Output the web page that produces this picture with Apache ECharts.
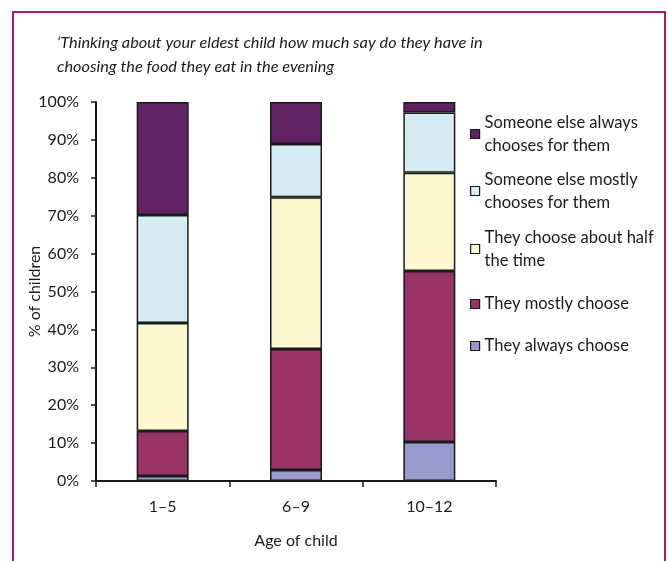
<!DOCTYPE html>
<html>
<head>
<meta charset="utf-8">
<script src="https://cdn.jsdelivr.net/npm/echarts@6/dist/echarts.min.js"></script>
<style>
  html, body { margin: 0; padding: 0; background: #fff; }
  #chart { width: 668px; height: 561px; }
</style>
</head>
<body>
<div id="chart"></div>
<script>
// Age groups along the x axis
const categories = ['1–5', '6–9', '10–12'];

// Share of children (%) in each answer group, bottom of stack first
const alwaysChoose = [1.3, 2.9, 10.3];
const mostlyChoose = [11.9, 31.9, 45.1];
const halfTheTime = [28.5, 40.1, 25.9];
const elseMostly = [28.5, 14.0, 15.9];
const elseAlways = [29.8, 11.1, 2.8];

// Series names (stack order) and their wrapped legend text
const seriesNames = [
  'They always choose',
  'They mostly choose',
  'They choose about half the time',
  'Someone else mostly chooses for them',
  'Someone else always chooses for them'
];
const legendText = [
  'They always choose',
  'They mostly choose',
  'They choose about half\nthe time',
  'Someone else mostly\nchooses for them',
  'Someone else always\nchooses for them'
];
const seriesValues = [alwaysChoose, mostlyChoose, halfTheTime, elseMostly, elseAlways];
const colors = ['#9999CC', '#993366', '#FBF8CF', '#D5ECF3', '#602262'];

// Y axis ticks
const yMin = 0, yMax = 100, yStep = 10;

const FONT = 'Lato, "Open Sans", sans-serif';
const LINE = 23;
// Vertical centre of each legend key, listed top to bottom
const legendOrder = [4, 3, 2, 1, 0];
const legendCenters = [134, 191, 249, 304, 346];

const legends = legendOrder.map((idx, k) => {
  const twoLine = legendText[idx].indexOf('\n') >= 0;
  return {
    data: [seriesNames[idx]],
    left: 470,
    top: legendCenters[k] - (twoLine ? 1.5 * LINE : LINE / 2),
    padding: 0,
    itemWidth: 9,
    itemHeight: 9,
    itemGap: 4,
    icon: 'rect',
    selectedMode: false,
    formatter: () => legendText[idx],
    itemStyle: { borderColor: '#1a1a1a', borderWidth: 1.2 },
    textStyle: {
      fontFamily: FONT,
      fontSize: 16.5,
      color: '#1a1a1a',
      lineHeight: LINE,
      padding: twoLine ? [LINE, 0, 0, 0] : 0
    }
  };
});

const chart = echarts.init(document.getElementById('chart'), null, { renderer: 'canvas' });
chart.setOption({
  animation: false,
  backgroundColor: '#ffffff',
  textStyle: { fontFamily: FONT },
  title: {
    text: '‘Thinking about your eldest child how much say do they have in\nchoosing the food they eat in the evening',
    left: 57,
    top: 31,
    padding: 0,
    textStyle: {
      fontFamily: FONT,
      fontStyle: 'italic',
      fontWeight: 'normal',
      fontSize: 16.3,
      lineHeight: 24,
      color: '#1a1a1a'
    }
  },
  legend: legends,
  grid: { left: 96, right: 172, top: 102, bottom: 80, containLabel: false },
  xAxis: {
    type: 'category',
    data: categories,
    name: 'Age of child',
    nameLocation: 'middle',
    nameGap: 52,
    nameTextStyle: { fontFamily: FONT, fontSize: 16, color: '#1a1a1a' },
    axisLine: { lineStyle: { color: '#1a1a1a', width: 2 } },
    axisTick: { show: true, length: 6, lineStyle: { color: '#1a1a1a', width: 1.5 } },
    axisLabel: { fontFamily: FONT, fontSize: 16, color: '#1a1a1a', margin: 18 },
    splitLine: { show: false }
  },
  yAxis: {
    type: 'value',
    min: yMin,
    max: yMax,
    interval: yStep,
    name: '% of children',
    nameLocation: 'middle',
    nameGap: 53,
    nameRotate: 90,
    nameMoveOverlap: false,
    nameTextStyle: { fontFamily: FONT, fontSize: 16, color: '#1a1a1a' },
    axisLine: { show: true, lineStyle: { color: '#1a1a1a', width: 2 } },
    axisTick: { show: true, length: 5, lineStyle: { color: '#1a1a1a', width: 1.5 } },
    axisLabel: { fontFamily: FONT, fontSize: 16, color: '#1a1a1a', margin: 17, formatter: '{value}%' },
    splitLine: { show: false }
  },
  graphic: [{
    type: 'rect',
    shape: { x: 13, y: 12, width: 652, height: 600 },
    style: { fill: 'none', stroke: '#A3206F', lineWidth: 2 },
    silent: true,
    z: 100
  }],
  series: seriesNames.map((name, i) => ({
    name: name,
    type: 'bar',
    stack: 'total',
    barWidth: 52,
    data: seriesValues[i],
    itemStyle: { color: colors[i], borderColor: '#1a1a1a', borderWidth: 1.5 },
    emphasis: { disabled: true }
  }))
});
</script>
</body>
</html>
